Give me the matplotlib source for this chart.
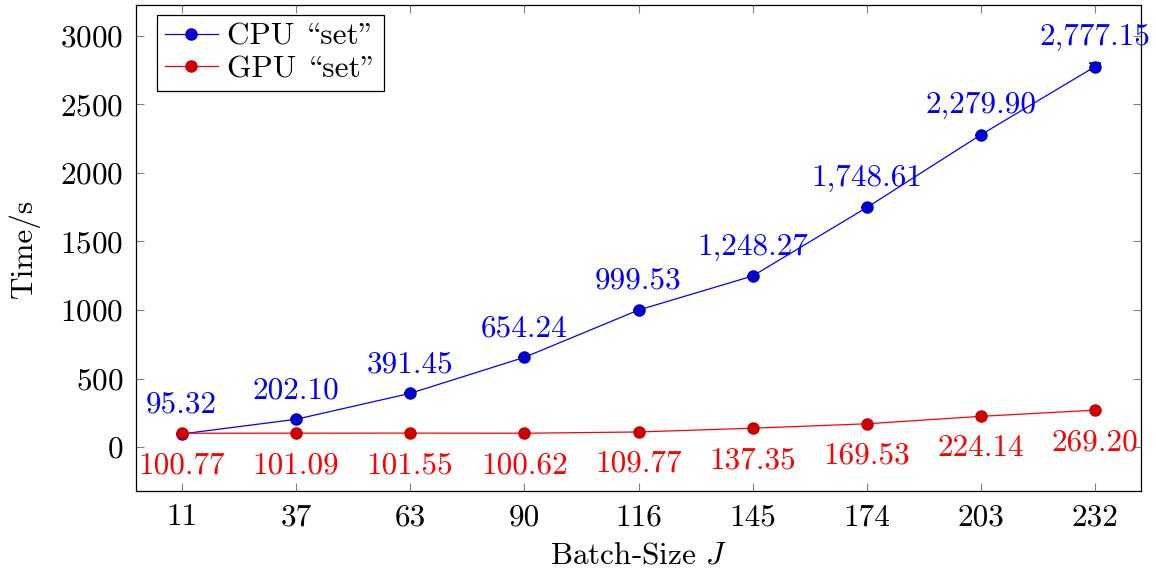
import matplotlib
matplotlib.use("Agg")
import matplotlib.pyplot as plt
from matplotlib.lines import Line2D

plt.rcParams['font.family'] = ['cmr10', 'DejaVu Serif']
plt.rcParams['mathtext.fontset'] = 'cm'
plt.rcParams['axes.formatter.use_mathtext'] = True

categories = ["11", "37", "63", "90", "116", "145", "174", "203", "232"]
cpu_vals = [95.32, 202.10, 391.45, 654.24, 999.53, 1248.27, 1748.61, 2279.90, 2777.15]
cpu_err = [0, 0, 0, 0, 0, 0, 0, 0, 22]
gpu_vals = [100.77, 101.09, 101.55, 100.62, 109.77, 137.35, 169.53, 224.14, 269.20]
cpu_labels = ["95.32", "202.10", "391.45", "654.24", "999.53", "1,248.27", "1,748.61", "2,279.90", "2,777.15"]
gpu_labels = ["100.77", "101.09", "101.55", "100.62", "109.77", "137.35", "169.53", "224.14", "269.20"]
series_names = ['CPU \\set"', 'GPU \\set"']

FS = 22.5
BLUE, DBLUE = (0, 0, 1), (0, 0, 0.8)
RED, DRED = (1, 0, 0), (0.8, 0, 0)

fig = plt.figure(figsize=(11.56, 5.71), dpi=100)
ax = fig.add_axes([136/1156, 1-491/571, (1141-136)/1156, (491-5)/571])
x = list(range(len(categories)))

ax.errorbar(x, cpu_vals, yerr=cpu_err, color=BLUE, lw=0.9, marker='o', ms=8,
            mfc=DBLUE, mec=DBLUE, ecolor=DBLUE, elinewidth=1.2, capsize=4,
            capthick=1.2, zorder=3)
ax.plot(x, gpu_vals, color=RED, lw=0.9, marker='o', ms=8,
        mfc=DRED, mec=DRED, zorder=4)

for xi, v, t in zip(x, cpu_vals, cpu_labels):
    ax.annotate(t, (xi, v), xytext=(0, 11), textcoords='offset points',
                ha='center', va='bottom', color=BLUE, fontsize=FS)
for xi, v, t in zip(x, gpu_vals, gpu_labels):
    ax.annotate(t, (xi, v), xytext=(0, -13), textcoords='offset points',
                ha='center', va='top', color=RED, fontsize=FS)

ax.set_xticks(x)
ax.set_xticklabels(categories)
ax.set_xlim(-0.4, len(categories) - 1 + 0.4)
ax.set_ylim(-321, 3226)
ax.set_yticks([0, 500, 1000, 1500, 2000, 2500, 3000])
ax.tick_params(direction='in', top=True, right=True, length=6, width=0.8,
               color='0.5', labelsize=FS, pad=9)
for s in ax.spines.values():
    s.set_linewidth(0.9)

ax.set_xlabel('Batch-Size $J$', fontsize=FS, labelpad=7)
ax.set_ylabel('Time/s', fontsize=FS, labelpad=15)

handles = [Line2D([], [], color=BLUE, lw=0.9, marker='o', ms=8, mfc=DBLUE, mec=DBLUE),
           Line2D([], [], color=RED, lw=0.9, marker='o', ms=8, mfc=DRED, mec=DRED)]
leg = ax.legend(handles, series_names, loc='upper left', bbox_to_anchor=(0.021, 0.98),
                borderaxespad=0, fontsize=FS, frameon=True,
                fancybox=False, edgecolor='black', framealpha=1, borderpad=0.25,
                handlelength=1.7, handletextpad=0.3, labelspacing=0.15)
leg.get_frame().set_linewidth(0.9)

fig.savefig('out.png', dpi=100)
